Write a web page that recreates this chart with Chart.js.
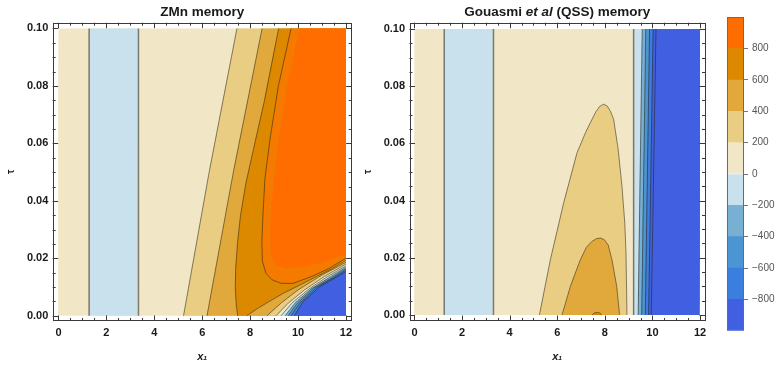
<!DOCTYPE html>
<html lang="en">
<head>
<meta charset="UTF-8">
<title>ZMn vs Gouasmi (QSS) memory</title>
<script src="https://cdn.jsdelivr.net/npm/chart.js"></script>
<style>
  html, body { margin: 0; padding: 0; background: #fff; }
  #wrap { position: relative; width: 777px; height: 365px; }
  #wrap canvas { position: absolute; left: 0; top: 0; }
</style>
</head>
<body>
<div id="wrap">
  <canvas id="zmn" width="777" height="365"></canvas>
  <canvas id="qss" width="777" height="365"></canvas>
  <canvas id="bar" width="777" height="365"></canvas>
</div>
<script>
// colour bands of the contour plot (lower edge of each band)
const levels = [-1000, -800, -600, -400, -200, 0, 200, 400, 600, 800, 1000];
const levelColors = ['#4160e1', '#3b7edd', '#4d95d2', '#78b0d4', '#c9e1ec', '#f1e7c6', '#e9cd82', '#e1a93b', '#dd8900', '#ff6d00'];
const barTicks = [-800, -600, -400, -200, 0, 200, 400, 600, 800];

const xTicks = [0, 2, 4, 6, 8, 10, 12];
const xMinor = [0.5, 1, 1.5, 2.5, 3, 3.5, 4.5, 5, 5.5, 6.5, 7, 7.5, 8.5, 9, 9.5, 10.5, 11, 11.5];
const tauTicks = [0, 0.02, 0.04, 0.06, 0.08, 0.1];
const tauMinor = [0.005, 0.01, 0.015, 0.025, 0.03, 0.035, 0.045, 0.05, 0.055, 0.065, 0.07, 0.075, 0.085, 0.09, 0.095];

// ZMn memory contours (x1, tau)
const zmnZeroX = [1.28, 3.34];
const zmn200X = [5.22, 6.29, 7.45];
const zmn200T = [0, 0.05, 0.1];
const zmn400X = [6.20, 7.30, 8.50];
const zmn400T = [0, 0.05, 0.1];
const zmn600aX = [9.19, 8.60, 8.14, 7.82, 7.60, 7.48, 7.40, 7.38, 7.42, 7.48];
const zmn600aT = [0.1, 0.075, 0.058, 0.046, 0.035, 0.026, 0.017, 0.010, 0.004, 0];
const zmn600bX = [7.86, 8.30, 8.80, 9.40, 10.1, 10.8, 11.4, 12];
const zmn600bT = [0, 0.0025, 0.0050, 0.0079, 0.0108, 0.0138, 0.0163, 0.0193];
const zmn800X = [9.71, 9.18, 8.84, 8.62, 8.54, 8.49, 8.51, 8.66, 8.92, 9.30, 9.80, 10.6, 11.3, 12];
const zmn800T = [0.1, 0.08, 0.062, 0.048, 0.036, 0.026, 0.019, 0.0148, 0.0125, 0.0113, 0.0113, 0.0138, 0.0165, 0.0201];
const zmnCoreX = [10.07, 9.54, 9.20, 9.00, 8.88, 8.84, 8.88, 9.05, 9.45, 10.2, 11.0, 12];
const zmnCoreT = [0.1, 0.08, 0.062, 0.048, 0.036, 0.026, 0.021, 0.0178, 0.0165, 0.0170, 0.0185, 0.0215];
const fanLevels = [400, 200, 0, -200, -400, -600, -800];
const fanX = [
  [8.70, 9.30, 10.00, 11.00, 12],
  [9.08, 9.60, 10.30, 11.10, 12],
  [9.29, 9.75, 10.45, 11.20, 12],
  [9.46, 9.88, 10.55, 11.30, 12],
  [9.58, 9.98, 10.65, 11.40, 12],
  [9.70, 10.08, 10.78, 11.50, 12],
  [9.84, 10.20, 10.92, 11.61, 12]
];
const fanT = [
  [0, 0.0045, 0.0090, 0.0142, 0.0186],
  [0, 0.0045, 0.0092, 0.0137, 0.0180],
  [0, 0.0045, 0.0093, 0.0135, 0.0174],
  [0, 0.0045, 0.0094, 0.0133, 0.0169],
  [0, 0.0045, 0.0096, 0.0132, 0.0164],
  [0, 0.0045, 0.0099, 0.0133, 0.0159],
  [0, 0.0048, 0.0102, 0.0135, 0.0154]
];

// Gouasmi et al (QSS) memory contours
const qssZeroX = [1.25, 3.32];
const qss200X = [5.25, 5.71, 6.27, 6.83, 7.20, 7.46, 7.62, 7.78, 7.94, 8.10, 8.24, 8.37, 8.56, 8.72, 8.84, 8.89, 8.93];
const qss200T = [0, 0.0193, 0.0392, 0.0567, 0.0640, 0.0684, 0.0710, 0.0729, 0.0737, 0.0731, 0.0712, 0.0684, 0.058, 0.045, 0.032, 0.0216, 0];
const qss400X = [6.20, 6.55, 6.97, 7.22, 7.45, 7.65, 7.82, 7.98, 8.14, 8.30, 8.50, 8.62];
const qss400T = [0, 0.010, 0.0193, 0.0236, 0.0257, 0.0267, 0.0269, 0.0263, 0.0245, 0.0193, 0.010, 0];
const qss600X = [7.46, 7.55, 7.67, 7.79, 7.88];
const qss600T = [0, 0.0007, 0.0009, 0.0007, 0];
const edgeLevels = [0, -200, -400, -600, -800, -1000];
const edgeBottomX = [9.21, 9.40, 9.55, 9.70, 9.84, 9.95];
const edgeTopX = [9.21, 9.57, 9.72, 9.88, 10.03, 10.15];

const X0 = 0, X1 = 12, T0 = 0, T1 = 0.1;
const ink = '#1a1a1a';
const family = '"Liberation Sans", Arial, Helvetica, sans-serif';

const band = lo => levelColors[Math.max(levels.indexOf(lo), 0)];
const pts = (xs, ts) => xs.map((x, i) => ({x, y: ts[i]}));
const box = (a, b) => [{x: a, y: T0}, {x: a, y: T1}, {x: b, y: T1}, {x: b, y: T0}];

function area(points, color) {
  return { data: points, fill: 'shape', backgroundColor: color, borderColor: 'transparent', borderWidth: 0, pointRadius: 0 };
}
function contour(points, width) {
  return { data: points, fill: false, borderColor: 'rgba(40,32,20,0.55)', borderWidth: width || 1, pointRadius: 0 };
}

// ---- ZMn layers, painted back to front
const zmnLayers = [
  area(box(X0, X1), band(0)),
  area(box(zmnZeroX[0], zmnZeroX[1]), band(-200)),
  area([...pts(zmn200X, zmn200T), {x: X1, y: T1}, {x: X1, y: T0}], band(200)),
  area([...pts(zmn400X, zmn400T), {x: X1, y: T1}, {x: X1, y: T0}], band(400)),
  area([...pts(zmn600aX, zmn600aT), ...pts(zmn600bX, zmn600bT), {x: X1, y: T1}], band(600)),
  area([...pts(zmn800X, zmn800T), {x: X1, y: T1}], '#f47a00'),
  area([...pts(zmnCoreX, zmnCoreT), {x: X1, y: T1}], band(800)),
  area([...pts(zmn600bX, zmn600bT), {x: X1, y: T0}], band(400))
];
fanLevels.forEach((lv, i) => {
  zmnLayers.push(area([...pts(fanX[i], fanT[i]), {x: X1, y: T0}], band(lv - 200)));
});
const zmnLines = [
  contour(pts([zmnZeroX[0], zmnZeroX[0]], [T0, T1]), 1.5),
  contour(pts([zmnZeroX[1], zmnZeroX[1]], [T0, T1]), 1.5),
  contour(pts(zmn200X, zmn200T)),
  contour(pts(zmn400X, zmn400T)),
  contour(pts(zmn600aX, zmn600aT)),
  contour(pts(zmn600bX, zmn600bT)),
  contour(pts(zmn800X, zmn800T)),
  ...fanLevels.map((lv, i) => contour(pts(fanX[i], fanT[i])))
];

// ---- QSS layers
const qssLayers = [
  area(box(X0, X1), band(0)),
  area(box(qssZeroX[0], qssZeroX[1]), band(-200)),
  area(pts(qss200X, qss200T), band(200)),
  area(pts(qss400X, qss400T), band(400)),
  area(pts(qss600X, qss600T), band(600)),
  ...edgeLevels.map((lv, i) => area([{x: edgeBottomX[i], y: T0}, {x: edgeTopX[i], y: T1}, {x: X1, y: T1}, {x: X1, y: T0}], band(Math.max(lv - 200, -1000))))
];
const qssLines = [
  contour(pts([qssZeroX[0], qssZeroX[0]], [T0, T1]), 1.5),
  contour(pts([qssZeroX[1], qssZeroX[1]], [T0, T1]), 1.5),
  contour(pts(qss200X, qss200T)),
  contour(pts(qss400X, qss400T)),
  contour(pts(qss600X, qss600T)),
  ...edgeLevels.map((lv, i) => contour(pts([edgeBottomX[i], edgeTopX[i]], [T0, T1]), lv === 0 ? 1.5 : 1))
];

// frame with inward ticks on all four sides
const frameTicks = {
  id: 'frameTicks',
  afterDatasetsDraw(chart) {
    const {ctx, chartArea: a, scales: {x, y}} = chart;
    const px = v => Math.round(x.getPixelForValue(v)) + 0.5;
    const py = v => Math.round(y.getPixelForValue(v)) + 0.5;
    ctx.save();
    ctx.strokeStyle = '#3a3a3a';
    ctx.lineWidth = 1;
    ctx.beginPath();
    [...xTicks.map(v => [v, 5.5]), ...xMinor.map(v => [v, 3])].forEach(([v, len]) => {
      const p = px(v);
      ctx.moveTo(p, a.bottom); ctx.lineTo(p, a.bottom - len);
      ctx.moveTo(p, a.top); ctx.lineTo(p, a.top + len);
    });
    [...tauTicks.map(v => [v, 5.5]), ...tauMinor.map(v => [v, 3])].forEach(([v, len]) => {
      const p = py(v);
      ctx.moveTo(a.left, p); ctx.lineTo(a.left + len, p);
      ctx.moveTo(a.right, p); ctx.lineTo(a.right - len, p);
    });
    ctx.stroke();
    ctx.strokeRect(Math.round(a.left) + 0.5, Math.round(a.top) + 0.5, Math.round(a.width) - 1, Math.round(a.height) - 1);
    ctx.restore();
  }
};

// title with mixed upright / italic parts
const richTitle = {
  id: 'richTitle',
  afterDraw(chart, args, opts) {
    if (!opts.parts) return;
    const {ctx, chartArea: a} = chart;
    ctx.save();
    ctx.fillStyle = ink;
    ctx.textBaseline = 'middle';
    ctx.textAlign = 'left';
    const fonts = opts.parts.map(p => (p.italic ? 'italic ' : '') + 'bold 13.5px ' + family);
    let w = 0;
    opts.parts.forEach((p, i) => { ctx.font = fonts[i]; w += ctx.measureText(p.text).width; });
    let x = (a.left + a.right) / 2 - w / 2;
    opts.parts.forEach((p, i) => {
      ctx.font = fonts[i];
      ctx.fillText(p.text, x, opts.y);
      x += ctx.measureText(p.text).width;
    });
    ctx.restore();
  }
};

function panel(id, layers, lines, pad, xr, yr, titleParts) {
  const tickFont = {family, size: 11, weight: 'bold'};
  return new Chart(document.getElementById(id), {
    type: 'line',
    data: { datasets: [...layers, ...lines].reverse() },
    options: {
      responsive: false,
      animation: false,
      events: [],
      layout: { padding: { left: pad[0], right: pad[1], top: 22.7, bottom: 0 } },
      // a tiny tension keeps segments straight but avoids the sorted-x fast path
      elements: { line: { tension: 0.0001, capBezierPoints: false } },
      plugins: {
        legend: { display: false },
        tooltip: { enabled: false },
        richTitle: { parts: titleParts, y: 12 }
      },
      scales: {
        x: {
          type: 'linear', min: xr[0], max: xr[1],
          afterBuildTicks: s => { s.ticks = xTicks.map(v => ({value: v})); },
          afterFit: s => { s.height = 44; },
          grid: { display: false, drawTicks: false },
          border: { display: false },
          ticks: { padding: 5, color: ink, font: tickFont, maxRotation: 0, callback: v => String(v) },
          title: { display: true, text: 'x₁', color: ink, font: {family, size: 11, weight: 'bold', style: 'italic'}, padding: {top: 0, bottom: 1.4} }
        },
        y: {
          type: 'linear', min: yr[0], max: yr[1],
          afterBuildTicks: s => { s.ticks = tauTicks.map(v => ({value: v})); },
          afterFit: s => { s.width = 52.7; },
          grid: { display: false, drawTicks: false },
          border: { display: false },
          ticks: { padding: 4.4, color: ink, font: tickFont, callback: v => Number(v).toFixed(2) },
          title: { display: true, text: 'τ', color: ink, font: {family, size: 10, weight: 'bold'}, padding: {top: 5, bottom: 0} }
        }
      }
    },
    plugins: [frameTicks, richTitle]
  });
}

panel('zmn', zmnLayers, zmnLines, [0, 425.3], [-0.24, 12.24], [-0.0018, 0.102],
  [{text: 'ZMn memory'}]);
panel('qss', qssLayers, qssLines, [356.8, 72], [-0.21, 12.21], [-0.0021, 0.1022],
  [{text: 'Gouasmi '}, {text: 'et al', italic: true}, {text: ' (QSS) memory'}]);

// colour bar legend
const barFrame = {
  id: 'barFrame',
  afterDatasetsDraw(chart) {
    const {ctx, chartArea: a} = chart;
    ctx.save();
    ctx.strokeStyle = '#6a6a6a';
    ctx.lineWidth = 1;
    ctx.strokeRect(Math.round(a.left) + 0.5, Math.round(a.top) + 0.5, Math.round(a.width) - 1, Math.round(a.height) - 1);
    ctx.restore();
  }
};

new Chart(document.getElementById('bar'), {
  type: 'bar',
  data: {
    labels: ['z'],
    datasets: levelColors.map((c, i) => ({
      data: [[levels[i], levels[i + 1]]],
      backgroundColor: c, borderWidth: 0, grouped: false,
      barPercentage: 1, categoryPercentage: 1
    }))
  },
  options: {
    responsive: false,
    animation: false,
    events: [],
    layout: { padding: { left: 727, right: 0, top: 17.3, bottom: 34.3 } },
    plugins: { legend: { display: false }, tooltip: { enabled: false } },
    scales: {
      x: { display: false },
      y: {
        position: 'right', min: -1000, max: 1000,
        afterBuildTicks: s => { s.ticks = barTicks.map(v => ({value: v})); },
        afterFit: s => { s.width = 33; },
        grid: { drawOnChartArea: false, drawTicks: true, tickLength: 4, color: '#777' },
        border: { display: false },
        ticks: { padding: 4, color: '#555', font: {family, size: 10}, callback: v => v < 0 ? '\u2212' + (-v) : String(v) }
      }
    }
  },
  plugins: [barFrame]
});
</script>
</body>
</html>
